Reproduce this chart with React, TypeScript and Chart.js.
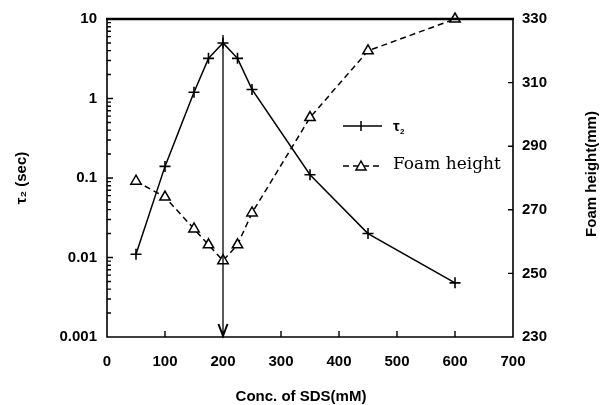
import { useEffect, useRef } from 'react';
import { Chart, registerables } from 'chart.js';

Chart.register(...registerables);

// ---- data ----
const CONC = [50, 100, 150, 175, 200, 225, 250, 350, 450, 600];
const TAU2 = [0.011, 0.14, 1.2, 3.2, 5.0, 3.2, 1.3, 0.11, 0.02, 0.0048];
const FOAM = [279, 274, 264, 259, 254, 259, 269, 299, 320, 330];

const X_TICKS = [0, 100, 200, 300, 400, 500, 600, 700];
const LEFT_DECADES = [0.001, 0.01, 0.1, 1, 10];
const LEFT_LABELS = ['0.001', '0.01', '0.1', '1', '10'];
const RIGHT_TICKS = [230, 250, 270, 290, 310, 330];

const ARROW_X = 200;
const ARROW_TOP = 6.3;

const LEGEND_TAU = 'τ';
const LEGEND_TAU_SUB = '2';
const LEGEND_FOAM = 'Foam height';
const X_TITLE = 'Conc. of SDS(mM)';
const Y_LEFT_TITLE = 'τ₂ (sec)';
const Y_RIGHT_TITLE = 'Foam height(mm)';

const SANS = '"Liberation Sans", Arial, Helvetica, sans-serif';
const SERIF = '"DejaVu Serif", "Liberation Serif", serif';
const TICK_FONT = { family: SANS, size: 15, weight: 'bold' as const };

function isDecade(v: number) {
  const l = Math.log10(v);
  return Math.abs(l - Math.round(l)) < 1e-6;
}

const decorPlugin = {
  id: 'decor',
  afterDraw(chart: any) {
    const ctx = chart.ctx as CanvasRenderingContext2D;
    const { left, right, top, bottom } = chart.chartArea;
    const xs = chart.scales.x;
    const yl = chart.scales.y;
    const yr = chart.scales.y2;
    ctx.save();
    ctx.strokeStyle = '#000';
    ctx.fillStyle = '#000';
    ctx.setLineDash([]);

    // frame
    ctx.lineWidth = 1.6;
    ctx.beginPath();
    ctx.moveTo(left, top);
    ctx.lineTo(left, bottom);
    ctx.lineTo(right, bottom);
    ctx.lineTo(right, top);
    ctx.stroke();
    ctx.lineWidth = 2.4;
    ctx.beginPath();
    ctx.moveTo(left - 1, top);
    ctx.lineTo(right + 1, top);
    ctx.stroke();

    // inward ticks
    ctx.lineWidth = 1.4;
    ctx.beginPath();
    for (const t of xs.ticks) {
      if (t.value <= xs.min || t.value >= xs.max) continue;
      const px = xs.getPixelForValue(t.value);
      ctx.moveTo(px, bottom);
      ctx.lineTo(px, bottom - 6);
    }
    for (const t of yl.ticks) {
      if (t.value <= yl.min || t.value >= yl.max) continue;
      const py = yl.getPixelForValue(t.value);
      const len = isDecade(t.value) ? 6 : 4;
      ctx.moveTo(left, py);
      ctx.lineTo(left + len, py);
    }
    for (const t of yr.ticks) {
      if (t.value <= yr.min || t.value >= yr.max) continue;
      const py = yr.getPixelForValue(t.value);
      ctx.moveTo(right, py);
      ctx.lineTo(right - 5, py);
    }
    ctx.stroke();

    // arrow
    const ax = xs.getPixelForValue(ARROW_X);
    const ay0 = yl.getPixelForValue(ARROW_TOP);
    const ay1 = yl.getPixelForValue(yl.min);
    ctx.lineWidth = 1.3;
    ctx.beginPath();
    ctx.moveTo(ax, ay0);
    ctx.lineTo(ax, ay1);
    ctx.stroke();
    ctx.lineWidth = 2;
    ctx.beginPath();
    ctx.moveTo(ax - 4.5, ay1 - 13);
    ctx.lineTo(ax, ay1 - 1);
    ctx.lineTo(ax + 4.5, ay1 - 13);
    ctx.stroke();

    // legend
    const lx0 = 343, lx1 = 382, lm = 361;
    const r1 = 126, r2 = 166;
    ctx.lineWidth = 1.5;
    ctx.beginPath();
    ctx.moveTo(lx0, r1);
    ctx.lineTo(lx1, r1);
    ctx.moveTo(lm, r1 - 5);
    ctx.lineTo(lm, r1 + 5);
    ctx.stroke();
    ctx.setLineDash([6, 4]);
    ctx.beginPath();
    ctx.moveTo(lx0, r2);
    ctx.lineTo(lx1, r2);
    ctx.stroke();
    ctx.setLineDash([]);
    ctx.fillStyle = '#fff';
    ctx.beginPath();
    ctx.moveTo(lm, r2 - 5);
    ctx.lineTo(lm + 5, r2 + 4);
    ctx.lineTo(lm - 5, r2 + 4);
    ctx.closePath();
    ctx.fill();
    ctx.stroke();
    ctx.fillStyle = '#000';
    ctx.textBaseline = 'middle';
    ctx.textAlign = 'left';
    ctx.font = `bold 15px ${SANS}`;
    ctx.fillText(LEGEND_TAU, 393, r1 + 1);
    ctx.font = `bold 8px ${SANS}`;
    ctx.fillText(LEGEND_TAU_SUB, 400, r1 + 6);
    ctx.font = `17px ${SERIF}`;
    ctx.fillText(LEGEND_FOAM, 393, r2 - 1);

    // axis titles (bottom and right)
    ctx.font = `bold 15px ${SANS}`;
    ctx.textAlign = 'center';
    ctx.fillText(X_TITLE, 301, 397);
    ctx.save();
    ctx.translate(592, (top + bottom) / 2 - 4);
    ctx.rotate(-Math.PI / 2);
    ctx.fillText(Y_RIGHT_TITLE, 0, 0);
    ctx.restore();

    ctx.restore();
  },
};

export default function App() {
  const ref = useRef<HTMLCanvasElement>(null);
  useEffect(() => {
    const chart = new Chart(ref.current!, {
      type: 'line',
      data: {
        datasets: [
          {
            label: 'tau2',
            data: CONC.map((c, i) => ({ x: c, y: TAU2[i] })),
            yAxisID: 'y',
            borderColor: '#000',
            borderWidth: 1.5,
            pointStyle: 'cross',
            pointRadius: 5.5,
            pointBorderWidth: 1.6,
            pointBorderColor: '#000',
            pointBackgroundColor: '#000',
            tension: 0,
            clip: false,
          },
          {
            label: 'foam',
            data: CONC.map((c, i) => ({ x: c, y: FOAM[i] })),
            yAxisID: 'y2',
            borderColor: '#000',
            borderWidth: 1.5,
            borderDash: [6, 4],
            pointStyle: 'triangle',
            pointRadius: 6,
            pointBorderWidth: 1.5,
            pointBorderColor: '#000',
            pointBackgroundColor: '#fff',
            tension: 0,
            clip: false,
          },
        ],
      },
      options: {
        animation: false,
        responsive: false,
        devicePixelRatio: 1,
        layout: { padding: { top: 16, left: 0, right: 0, bottom: 0 } },
        plugins: { legend: { display: false }, tooltip: { enabled: false } },
        scales: {
          x: {
            type: 'linear',
            position: 'bottom',
            min: 0,
            max: 700,
            afterBuildTicks: (s: any) => {
              s.ticks = X_TICKS.map((v) => ({ value: v }));
            },
            ticks: { font: TICK_FONT, color: '#000', padding: 16, autoSkip: false, maxRotation: 0 },
            grid: { display: false, drawTicks: false },
            border: { display: false },
            afterFit: (s: any) => {
              s.height = 68;
            },
          },
          y: {
            type: 'logarithmic',
            position: 'left',
            min: 0.001,
            max: 10,
            afterBuildTicks: (s: any) => {
              const out: any[] = [];
              for (let d = 0; d < LEFT_DECADES.length; d++) {
                const base = LEFT_DECADES[d];
                out.push({ value: base, major: true });
                if (d < LEFT_DECADES.length - 1) {
                  for (let k = 2; k <= 9; k++) out.push({ value: base * k, major: false });
                }
              }
              s.ticks = out;
            },
            ticks: {
              font: TICK_FONT,
              color: '#000',
              padding: 10,
              autoSkip: false,
              callback: (v: any) => {
                const n = Number(v);
                if (!isDecade(n)) return '';
                const idx = Math.round(Math.log10(n)) + 3;
                return LEFT_LABELS[idx] ?? '';
              },
            },
            grid: { display: false, drawTicks: false },
            border: { display: false },
            title: {
              display: true,
              text: Y_LEFT_TITLE,
              color: '#000',
              font: { family: SANS, size: 15, weight: 'bold' },
              padding: { top: 13, bottom: 0 },
            },
            afterFit: (s: any) => {
              s.width = 107;
            },
          },
          y2: {
            type: 'linear',
            position: 'right',
            min: 230,
            max: 330,
            afterBuildTicks: (s: any) => {
              s.ticks = RIGHT_TICKS.map((v) => ({ value: v }));
            },
            ticks: { font: TICK_FONT, color: '#000', padding: 9, autoSkip: false },
            grid: { display: false, drawTicks: false },
            border: { display: false },
            afterFit: (s: any) => {
              s.width = 88;
            },
          },
        },
      } as any,
      plugins: [decorPlugin],
    });
    return () => chart.destroy();
  }, []);
  return (
    <div style={{ position: 'absolute', left: 0, top: 0, width: 601, height: 405, background: '#fff' }}>
      <canvas ref={ref} width={601} height={405} style={{ display: 'block', width: 601, height: 405 }} />
    </div>
  );
}
